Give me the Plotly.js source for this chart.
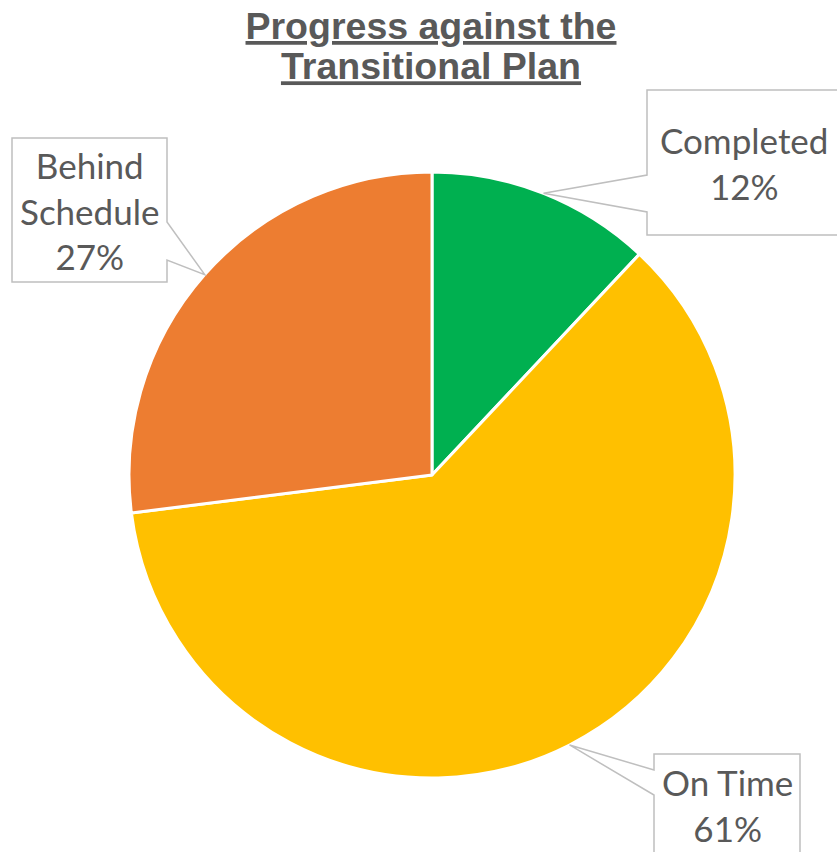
<!DOCTYPE html>
<html>
<head>
<meta charset="utf-8">
<script src="https://cdn.plot.ly/plotly-3.0.1.min.js"></script>
<style>html,body{margin:0;padding:0;background:#fff;}#chart{width:837px;height:852px;}</style>
</head>
<body>
<div id="chart"></div>
<script>
// ---- data ----
const categories = ['Completed', 'On Time', 'Behind Schedule'];
const labelLines = ['Completed', 'On Time', 'Behind<br>Schedule'];
const values = [12, 61, 27];
const colors = ['#00B050', '#FFC000', '#ED7D31'];
const titleLines = ['Progress against the', 'Transitional Plan'];

// ---- layout geometry (pixels) ----
const W = 837, H = 852;
const CX = 432, CY = 475, R = 303;
// callout boxes: box rect + where the pointer leaves the box edge
const callouts = [
  {x0: 647, x1: 840, y0: 90,  y1: 235, side: 'left',  b0: 175, b1: 212},
  {x0: 654, x1: 800, y0: 754, y1: 885, side: 'left',  b0: 770, b1: 795},
  {x0: 12,  x1: 167, y0: 138, y1: 282, side: 'right', b0: 222, b1: 260}
];
const textCenterY = [163, 805, 211];

const px = x => x / W;
const py = y => 1 - y / H;

const total = values.reduce((a, b) => a + b, 0);
let cum = 0;
const shapes = [];
const annotations = [];
values.forEach((v, i) => {
  const mid = (cum + v / 2) / total * 2 * Math.PI;
  cum += v;
  const tx = CX + R * Math.sin(mid);
  const ty = CY - R * Math.cos(mid);
  const c = callouts[i];
  let path;
  if (c.side === 'left') {
    path = `M ${px(c.x0)},${py(c.y0)} L ${px(c.x1)},${py(c.y0)} L ${px(c.x1)},${py(c.y1)} L ${px(c.x0)},${py(c.y1)} ` +
           `L ${px(c.x0)},${py(c.b1)} L ${px(tx)},${py(ty)} L ${px(c.x0)},${py(c.b0)} Z`;
  } else {
    path = `M ${px(c.x0)},${py(c.y0)} L ${px(c.x1)},${py(c.y0)} L ${px(c.x1)},${py(c.b0)} L ${px(tx)},${py(ty)} ` +
           `L ${px(c.x1)},${py(c.b1)} L ${px(c.x1)},${py(c.y1)} L ${px(c.x0)},${py(c.y1)} Z`;
  }
  shapes.push({type: 'path', xref: 'paper', yref: 'paper', path: path,
    fillcolor: '#FFFFFF', line: {color: '#BFBFBF', width: 1.5}, layer: 'above'});
  annotations.push({
    xref: 'paper', yref: 'paper',
    x: px((c.x0 + c.x1) / 2), y: py(textCenterY[i]),
    xanchor: 'center', yanchor: 'middle', showarrow: false,
    text: labelLines[i] + '<br>' + Math.round(v / total * 100) + '%',
    font: {family: 'Lato, "Open Sans", sans-serif', size: 35, color: '#595959'},
    align: 'center'
  });
});

const trace = {
  type: 'pie',
  labels: categories,
  values: values,
  sort: false,
  direction: 'clockwise',
  rotation: 0,
  textinfo: 'none',
  hoverinfo: 'label+percent',
  marker: {colors: colors, line: {color: '#FFFFFF', width: 3}},
  domain: {x: [px(CX - R), px(CX + R)], y: [py(CY + R), py(CY - R)]},
  showlegend: false
};

const layout = {
  width: W, height: H,
  margin: {l: 0, r: 0, t: 0, b: 0},
  paper_bgcolor: '#FFFFFF',
  title: {
    // line spacing follows the outer font size (31px * 1.3 ≈ 40px), glyphs drawn at 37.5px
    text: titleLines.map(t => '<span style="font-size:37.5px">' + t + '</span>').join('<br>'),
    x: px(431), xanchor: 'center',
    y: py(39), yanchor: 'middle', yref: 'container',
    font: {family: '"Liberation Sans", Arial, sans-serif', size: 31, color: '#595959', weight: 'bold', lineposition: 'under'}
  },
  shapes: shapes,
  annotations: annotations,
  showlegend: false
};

Plotly.newPlot('chart', [trace], layout, {displayModeBar: false, staticPlot: true});
</script>
</body>
</html>
